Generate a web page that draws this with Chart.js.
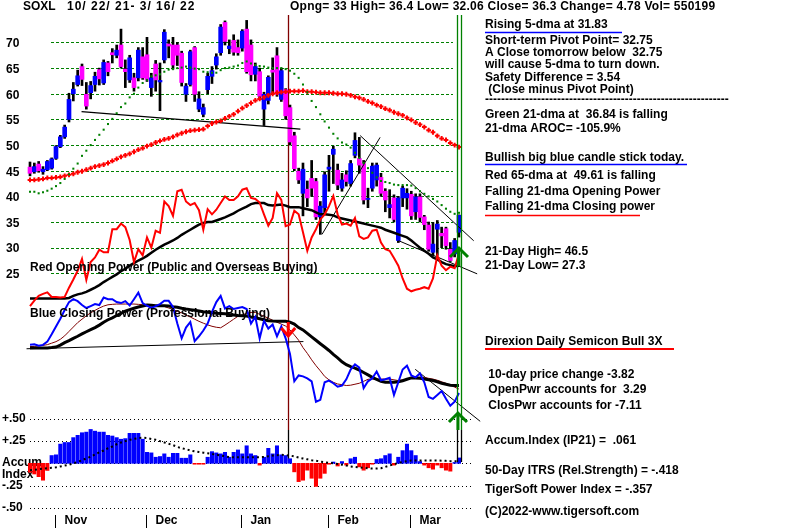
<!DOCTYPE html>
<html><head><meta charset="utf-8">
<script src="https://cdn.jsdelivr.net/npm/chart.js@4.4.0/dist/chart.umd.min.js"></script>
<style>html,body{margin:0;padding:0;background:#fff;overflow:hidden}</style>
</head><body>
<canvas id="c" width="800" height="528"></canvas>
<script>
// ---- DATA ----
const openP  = [45.7,44.8,46.3,44.8,45.2,45.5,47.4,49.7,51.6,55.0, 60.0,61.8,65.3,59.9,60.2,61.8,64.7,62.1,66.0,68.0, 67.5,69.5,64.8,62.7,63.1,63.1,67.2,67.6,61.2,65.8, 62.3,66.6,69.7,69.5,69.5,67.9,59.9,61.8,69.0,57.0, 56.0,60.8,63.4,65.6,68.0,73.9,68.8,70.4,69.0,68.9, 72.6,69.5,63.8,64.3,57.0,58.7,64.6,67.4,58.9,60.8, 57.3,51.8,44.9,40.6,41.4,43.5,42.9,36.0,37.8,45.3, 48.2,45.1,41.6,44.2,42.5,48.0,47.4,46.4,39.4,41.6, 43.2,43.7,41.0,37.8,39.7,31.4,39.7,39.7,40.4,37.0, 39.9,36.0,34.4,29.1,33.6,32.8,33.7,29.7,28.8,33.0];
const highP  = [46.7,46.5,46.8,45.8,47.0,47.5,49.9,51.9,53.9,60.1, 62.2,64.6,65.8,62.2,62.4,64.2,65.0,66.6,66.3,68.8, 69.5,72.6,66.6,67.5,64.0,69.0,69.0,71.0,64.0,66.5, 66.0,72.5,70.5,71.0,70.0,68.3,62.0,68.5,69.2,60.4, 58.0,64.0,65.3,67.8,73.5,74.2,70.5,71.5,70.5,72.5, 74.3,70.5,66.0,65.0,60.3,63.5,67.0,69.0,65.0,61.0, 57.8,52.5,45.5,46.5,43.0,47.0,43.5,39.0,44.8,48.0, 49.8,46.3,44.5,45.0,47.0,52.4,51.5,47.0,41.6,46.5, 46.5,44.5,41.5,41.3,40.3,40.0,42.0,41.5,41.0,40.5, 40.5,36.3,35.0,34.9,35.3,34.0,34.0,31.0,31.8,36.4];
const lowP   = [44.0,44.5,44.7,44.3,45.0,45.3,47.2,49.5,51.3,54.5, 58.6,61.5,61.6,57.0,59.0,60.5,61.7,61.8,63.5,66.0, 67.0,65.0,61.2,62.2,60.5,62.5,62.8,62.4,59.5,60.5, 56.7,66.0,67.0,64.8,65.5,61.5,58.5,61.5,58.5,56.5, 55.5,60.0,62.0,64.8,67.5,69.5,67.8,67.5,67.5,68.3, 64.0,62.5,62.5,59.0,53.8,58.0,60.0,59.5,58.5,55.0, 50.0,45.0,42.5,36.2,38.0,40.0,35.5,32.6,36.5,41.0, 42.5,41.3,41.0,42.0,42.0,47.5,44.5,38.5,37.8,41.0, 42.0,40.0,37.0,35.8,35.0,31.0,38.0,37.5,35.5,35.5, 35.0,33.5,29.3,28.5,28.5,30.0,29.7,27.3,28.2,32.06];
const closeP = [44.5,45.8,45.0,45.3,46.8,47.3,49.7,51.6,53.5,58.9, 60.9,63.5,62.8,57.6,61.6,63.4,62.9,66.1,64.3,67.6, 68.5,65.3,64.3,67.0,61.2,68.5,63.1,62.7,63.1,62.7, 62.6,72.0,69.3,65.6,67.5,62.2,61.5,68.2,59.9,59.0, 57.3,63.4,64.5,67.2,73.0,70.2,69.3,68.1,68.0,72.2, 64.3,63.7,65.3,59.5,59.9,63.2,64.2,59.9,64.5,55.7, 50.6,45.4,43.2,45.3,39.7,41.6,36.0,38.1,44.2,45.7, 49.2,42.2,43.2,42.9,46.4,50.9,46.1,39.3,39.6,45.9, 46.1,40.6,39.3,38.4,35.5,39.7,41.6,40.6,36.2,39.9, 35.9,34.5,29.7,30.7,34.6,32.3,30.4,27.5,31.4,36.3];
const ma21   = [40.9,40.9,40.6,40.8,41.1,41.5,42.0,42.6,43.4,44.3, 45.4,46.4,47.9,48.9,50.0,51.0,52.0,53.0,54.1,55.1, 56.2,57.4,58.1,59.3,60.0,61.2,62.1,62.7,63.4,63.6, 63.8,64.3,64.7,64.8,65.0,65.1,65.3,65.1,64.9,64.8, 64.3,64.2,64.1,64.1,64.6,65.0,65.1,65.3,65.5,66.0, 66.3,65.9,65.6,65.4,65.3,65.1,65.0,65.0,65.0,64.8, 64.5,63.9,63.1,61.8,60.3,58.6,57.4,56.0,54.6,53.4, 52.2,51.3,50.5,50.1,49.5,48.5,47.5,46.5,45.5,44.6, 43.7,43.0,42.8,42.6,42.3,42.2,42.2,42.2,42.1,41.6, 41.0,40.5,40.0,39.5,39.0,38.3,37.6,37.0,36.6,36.8];
const ma65   = [43.2,43.2,43.3,43.4,43.6,43.6,43.7,43.8,44.0,44.2, 44.4,44.7,44.9,45.2,45.5,45.8,46.0,46.2,46.5,46.9, 47.3,47.7,48.0,48.3,48.7,49.1,49.4,49.8,50.1,50.5, 50.8,51.1,51.3,51.6,52.0,52.3,52.6,52.8,52.9,53.0, 53.1,53.7,54.2,54.5,54.7,55.2,55.6,56.0,56.6,57.2, 57.7,58.2,58.7,59.0,59.3,59.7,60.0,60.2,60.3,60.4, 60.5,60.5,60.5,60.6,60.4,60.4,60.3,60.2,60.2,60.2, 60.1,60.0,60.0,59.9,59.7,59.4,59.2,58.9,58.5,58.2, 57.8,57.5,57.1,56.8,56.4,56.1,55.8,55.3,54.9,54.4, 54.0,53.5,52.9,52.5,51.8,51.3,51.0,50.4,50.0,49.6];
const openPower   = [18.6,19.7,20.6,21.0,21.3,20.4,20.4,20.3,20.4,22.2, 23.8,25.5,27.8,23.7,27.2,28.1,29.6,29.1,29.1,33.6, 33.6,34.7,34.0,31.5,27.2,29.7,28.5,32.0,30.0,33.3, 32.9,39.0,38.1,36.2,41.0,41.3,39.0,38.3,38.7,37.3, 33.5,37.5,36.5,37.4,38.7,40.0,39.3,39.3,40.0,41.3, 41.6,39.7,39.5,38.8,36.5,34.3,35.8,40.6,39.3,34.2, 34.5,37.2,36.5,33.0,29.4,32.0,33.6,35.5,36.5,38.1, 40.1,36.5,34.5,34.7,34.3,35.8,32.2,31.7,32.0,33.3, 33.5,31.0,29.7,29.4,28.0,26.5,24.0,22.0,21.5,21.8, 22.0,22.3,22.0,24.0,28.5,26.5,25.6,26.3,26.0,28.8];
const openPowerMA = [20.1,20.1,20.1,20.1,20.1,20.1,20.1,20.1,20.1,20.2, 20.6,20.9,21.1,21.4,21.8,22.2,22.7,23.3,23.8,24.3, 24.8,25.4,25.9,26.5,27.0,27.5,27.9,28.4,29.0,29.6, 30.1,30.6,31.0,31.4,31.9,32.5,33.0,33.5,34.0,34.5, 34.8,35.0,35.0,35.3,35.6,35.9,36.3,36.7,37.2,37.6, 38.0,38.5,38.7,38.7,38.7,38.3,38.2,38.3,38.4,38.2, 37.9,37.9,37.9,37.7,37.5,37.3,36.9,36.5,36.5,36.4, 36.3,35.9,35.7,35.5,35.3,35.1,34.9,34.7,34.5,34.3, 34.1,33.9,33.5,33.2,32.9,32.6,32.3,32.0,31.4,30.7, 30.0,29.4,28.8,28.1,27.7,27.2,26.8,26.6,26.4,26.5];
const closePower   = [48.6,48.9,47.7,48.4,51.4,58.2,65.5,72.7,80.9,88.2, 90.9,89.1,85.5,82.7,84.5,86.4,85.5,92.5,90.9,90.9, 88.2,87.3,89.1,85.0,90.9,97.0,87.3,84.8,82.7,84.5, 86.4,89.4,89.4,83.6,68.2,54.5,64.5,69.7,51.8,56.4, 61.8,68.2,79.1,88.2,93.9,82.3,84.5,81.8,82.7,83.6, 81.8,68.2,74.5,54.5,70.9,63.6,67.3,56.4,65.5,54.5, 40.0,14.5,20.0,19.1,17.3,14.5,-4.5,-2.7,13.6,15.2, 12.7,9.5,10.6,16.4,25.5,30.3,27.3,8.2,14.5,17.3, 23.6,15.5,16.4,17.7,1.8,13.6,25.5,29.1,20.0,18.2, 21.8,13.6,0.0,-1.8,1.8,5.5,-1.8,-8.2,-4.5,3.6];
const closePowerMA = [45.5,45.5,45.5,45.5,45.5,45.9,46.4,48.2,50.5,52.3, 54.5,56.4,58.6,60.6,62.5,64.5,66.8,69.5,71.8,73.6, 75.7,77.7,79.7,81.2,82.5,83.6,84.5,85.5,85.2,84.8, 84.8,84.8,84.5,83.9,83.4,82.5,81.8,81.2,80.6,80.0, 79.3,78.8,78.4,77.9,77.6,77.3,76.6,76.2,75.7,75.5, 75.2,74.3,73.6,72.7,71.8,70.9,70.5,70.3,70.3,70.3, 69.5,67.7,64.5,62.3,59.1,55.9,52.7,49.5,46.4,43.2, 39.5,36.4,32.7,30.0,28.2,26.8,25.0,22.7,20.5,18.2, 16.4,14.5,13.6,13.6,13.6,14.1,15.0,16.4,17.7,17.7, 17.3,16.6,15.9,15.2,14.1,12.7,11.8,10.9,10.6,10.6];
const closePowerSlow = [46.8,47.0,47.5,47.9,48.6,50.0,51.4,53.6,56.8,60.9, 65.0,69.1,72.3,75.5,78.2,80.5,82.7,84.5,85.7,86.1, 86.4,86.4,86.4,86.4,86.4,86.1,85.8,85.5,85.2,85.0, 84.8,84.1,82.7,81.4,79.5,78.2,76.1,74.3,72.3,70.3, 68.6,67.0,65.7,64.8,64.3,66.8,69.5,72.3,75.0,76.4, 77.7,78.6,78.6,76.8,75.0,73.2,71.4,69.5,67.7,65.9, 62.3,57.7,52.7,45.9,40.5,34.5,29.1,24.3,19.1,15.9, 13.6,12.0,11.4,10.6,10.9,11.8,12.7,14.5,16.4,16.6, 16.6,16.6,16.6,16.6,15.9,15.2,15.9,16.6,17.3,18.2, 18.2,18.2,17.3,16.6,15.5,14.1,12.7,10.9,9.1,7.3];
const accumIdx = [-0.10,-0.12,-0.15,-0.19,-0.08,0.088,0.096,0.217,0.235,0.235, 0.29,0.316,0.345,0.352,0.382,0.363,0.352,0.352,0.316,0.308, 0.29,0.272,0.279,0.338,0.338,0.338,0.272,0.124,0.118,0.069, 0.077,0.107,0.069,0.113,0.113,0.058,0.058,0.096,-0.01,-0.01, -0.01,0.069,0.132,0.118,0.107,0.124,0.069,0.124,0.151,0.107, 0.198,0.107,0.088,-0.02,0.069,0.169,0.107,0.198,0.096,0.088, 0.052,-0.096,-0.206,-0.19,-0.077,-0.168,-0.26,-0.168,-0.113,-0.01, 0.015,-0.03,0.02,-0.02,0.052,0.069,-0.04,-0.077,-0.05,-0.01, 0.044,0.052,0.088,0.107,-0.02,0.069,0.143,0.217,0.143,0.088, 0.02,-0.02,-0.05,-0.066,-0.02,-0.05,-0.077,-0.088,0.01,0.061];
const accumMA = [-0.077,-0.072,-0.066,-0.06,-0.055,-0.05,-0.045,-0.035,-0.025,-0.015, 0.0,0.015,0.035,0.055,0.075,0.10,0.124,0.145,0.17,0.19, 0.215,0.235,0.25,0.265,0.275,0.285,0.29,0.285,0.275,0.265, 0.25,0.235,0.22,0.205,0.185,0.17,0.16,0.145,0.135,0.127, 0.12,0.113,0.105,0.097,0.09,0.08,0.07,0.07,0.069,0.069, 0.069,0.069,0.069,0.069,0.072,0.08,0.088,0.092,0.096,0.094, 0.088,0.078,0.065,0.055,0.045,0.035,0.03,0.02,0.012,0.005, 0.0,-0.008,-0.015,-0.025,-0.035,-0.04,-0.045,-0.05,-0.055,-0.058, -0.058,-0.055,-0.04,-0.025,-0.01,0.005,0.015,0.025,0.033,0.033, 0.033,0.033,0.033,0.033,0.033,0.03,0.028,0.025,0.025,0.025];
// trend lines (endpoints in day-index / value units)
const priceSupport = [[11.9,56.5],[62.4,53.1]];
const priceDownTrend = [[76.2,51.85],[102.4,31.35]];
const priceUpTrend = [[67.4,32.6],[80.8,51.5]];
const priceLowTrend = [[85.1,31.35],[103.2,24.9]];
const cpSupport = [[-0.8,44.8],[63.1,51.5]];
const cpDownTrend = [[88.9,25.7],[103.9,-22.7]];
// axis labels
const priceTicks = [70,65,60,55,50,45,40,35,30,25];
const accumTicks = [0.5,0.25,0,-0.25,-0.5];
const accumTickLabels = ['+.50','+.25','','-.25','-.50'];
const monthLabels = ['Nov','Dec','Jan','Feb','Mar'];
const monthStart = [6,27,49,69,88];
const sellDay = 59.6;

// ---- CHART ----
const days = closeP.map((_,i)=>i);
const pts = a => a.map((v,i)=>({x:i,y:v}));
const seg = a => a.map(p=>({x:p[0],y:p[1]}));
const bodyColors = days.map(i => closeP[i] >= openP[i] ? '#0000ff' : '#ff00ff');
const accColors = accumIdx.map(v => v >= 0 ? '#0000ff' : '#ff0000');
const F = s => `bold ${s}px "Liberation Sans", Arial, sans-serif`;

const lineDs = (data, color, width, axis, extra) => Object.assign({
  type:'line', data, borderColor:color, borderWidth:width, pointRadius:0,
  tension:0, fill:false, yAxisID:axis, order:5
}, extra||{});

const deco = {
  id:'deco',
  beforeDatasetsDraw(chart){
    const {ctx, scales:{x, y, acc}} = chart;
    ctx.save();
    ctx.lineWidth = 1;
    ctx.strokeStyle = '#008000'; ctx.setLineDash([3,2]);
    priceTicks.forEach(v=>{
      const py = Math.round(y.getPixelForValue(v)) + 0.5;
      ctx.beginPath(); ctx.moveTo(51,py); ctx.lineTo(453,py); ctx.stroke();
    });
    ctx.strokeStyle = '#000'; ctx.setLineDash([1,3]);
    accumTicks.forEach(v=>{
      const py = Math.round(acc.getPixelForValue(v)) + 0.5;
      ctx.beginPath(); ctx.moveTo(30,py); ctx.lineTo(472,py); ctx.stroke();
    });
    ctx.setLineDash([]);
    const sx = Math.round(x.getPixelForValue(sellDay)) + 0.5;
    ctx.strokeStyle = '#800000'; ctx.lineWidth = 1.3;
    ctx.beginPath(); ctx.moveTo(sx,15); ctx.lineTo(sx,430); ctx.stroke();
    ctx.strokeStyle = '#000';
    ctx.beginPath(); ctx.moveTo(sx,430); ctx.lineTo(sx,461); ctx.stroke();
    ctx.fillStyle = '#000'; ctx.font = F(12); ctx.textBaseline = 'middle';
    ctx.fillText('Accum', 2, 463);
    ctx.fillText('Index', 2, 475);
    ctx.restore();
  },
  afterDatasetsDraw(chart){
    const {ctx, scales:{x, y, acc}} = chart;
    ctx.save();
    ctx.fillStyle = '#000'; ctx.textBaseline = 'middle'; ctx.font = F(12);
    ctx.fillText('Red Opening Power (Public and Overseas Buying)', 30, 268);
    ctx.fillText('Blue Closing Power (Professional Buying)', 30, 314);
    const lx = x.getPixelForValue(99);
    [lx-2.3, lx+2.3].forEach(px=>{
      const p = Math.round(px)+0.5;
      ctx.strokeStyle = '#008000'; ctx.lineWidth = 1.3;
      ctx.beginPath(); ctx.moveTo(p,15); ctx.lineTo(p,430); ctx.stroke();
      ctx.strokeStyle = '#000';
      ctx.beginPath(); ctx.moveTo(p,430); ctx.lineTo(p,462); ctx.stroke();
    });
    const arrowUp = (cx, top, bottom) => {
      ctx.strokeStyle = '#008000'; ctx.lineWidth = 3; ctx.lineCap = 'butt';
      ctx.beginPath(); ctx.moveTo(cx, bottom); ctx.lineTo(cx, top+1); ctx.stroke();
      ctx.beginPath(); ctx.moveTo(cx-9, top+9); ctx.lineTo(cx, top); ctx.lineTo(cx+9, top+9); ctx.stroke();
    };
    arrowUp(lx, 248, 266);
    arrowUp(lx-1, 413, 430);
    const sx = x.getPixelForValue(sellDay);
    ctx.strokeStyle = '#ff0000'; ctx.lineWidth = 3;
    ctx.beginPath(); ctx.moveTo(sx, 322); ctx.lineTo(sx, 335); ctx.stroke();
    ctx.beginPath(); ctx.moveTo(sx-7, 328); ctx.lineTo(sx, 336); ctx.lineTo(sx+7, 328); ctx.stroke();
    ctx.fillStyle = '#000'; ctx.font = F(12);
    priceTicks.forEach(v=> ctx.fillText(String(v), 6, y.getPixelForValue(v)+1.5));
    accumTicks.forEach((v,k)=>{ if(accumTickLabels[k]) ctx.fillText(accumTickLabels[k], 2, acc.getPixelForValue(v)); });
    ctx.strokeStyle = '#000'; ctx.lineWidth = 1;
    monthStart.forEach((d,k)=>{
      const px = Math.round(x.getPixelForValue(d-0.3))+0.5;
      ctx.beginPath(); ctx.moveTo(px,515); ctx.lineTo(px,528); ctx.stroke();
      ctx.fillText(monthLabels[k], px+9, 521);
    });
    ctx.fillText('SOXL', 23, 7);
    try { ctx.letterSpacing = '1px'; } catch(e) {}
    ctx.fillText('10/ 22/ 21- 3/ 16/ 22', 67, 7);
    try { ctx.letterSpacing = '0.25px'; } catch(e) {}
    ctx.fillText('Opng= 33 High= 36.4 Low= 32.06 Close= 36.3 Change= 4.78 Vol= 550199', 290, 7);
    try { ctx.letterSpacing = '0px'; } catch(e) {}
    const R = 485;
    const lines = [
      ['Rising 5-dma at 31.83', R, 25],
      ['Short-term Pivot Point= 32.75', R, 41],
      ['A Close tomorrow below  32.75', R, 53],
      ['will cause 5-dma to turn down.', R, 65],
      ['Safety Difference = 3.54', R, 78],
      [' (Close minus Pivot Point)', R, 90],
      ['-------------------------------------------------------------', R, 100],
      ['Green 21-dma at  36.84 is falling', R, 115],
      ['21-dma AROC= -105.9%', R, 129],
      ['Bullish big blue candle stick today.', R, 158],
      ['Red 65-dma at  49.61 is falling', R, 176],
      ['Falling 21-dma Opening Power', R, 192],
      ['Falling 21-dma Closing power', R, 207],
      ['21-Day High= 46.5', R, 252],
      ['21-Day Low= 27.3', R, 266],
      ['Direxion Daily Semicon Bull 3X', R, 342],
      [' 10-day price change -3.82', R, 375],
      [' OpenPwr accounts for  3.29', R, 390],
      [' ClosPwr accounts for -7.11', R, 406],
      ['Accum.Index (IP21) =  .061', R, 441],
      ['50-Day ITRS (Rel.Strength) = -.418', R, 471],
      ['TigerSoft Power Index = -.357', R, 490],
      ['(C)2022-www.tigersoft.com', R, 512]
    ];
    lines.forEach(l=> ctx.fillText(l[0], l[1], l[2]));
    const uline = (x0,x1,yy,c,w)=>{ ctx.strokeStyle=c; ctx.lineWidth=w; ctx.beginPath(); ctx.moveTo(x0,yy); ctx.lineTo(x1,yy); ctx.stroke(); };
    uline(485,622,32.5,'#0000ff',1.3);
    uline(485,687,164.5,'#0000ff',1.3);
    uline(485,640,215.5,'#ff0000',1.3);
    uline(485,674,349,'#ff0000',2.2);
    ctx.restore();
  }
};

new Chart(document.getElementById('c'), {
  data: { datasets: [
    { type:'bar', data: days.map(i=>({x:i, y:[lowP[i], highP[i]]})), backgroundColor:'#000',
      barThickness:2, grouped:false, yAxisID:'y', order:20 },
    { type:'bar', data: days.map(i=>({x:i, y:[openP[i], closeP[i]]})), backgroundColor: bodyColors,
      barThickness:4, grouped:false, yAxisID:'y', order:19 },
    lineDs(seg(priceSupport), '#000', 1.2, 'y', {order:18}),
    lineDs(seg(priceDownTrend), '#000', 1, 'y', {order:18, clip:false}),
    lineDs(seg(priceUpTrend), '#000', 1, 'y', {order:18}),
    lineDs(seg(priceLowTrend), '#000', 1, 'y', {order:18, clip:false}),
    lineDs(pts(openPowerMA), '#000', 2.5, 'y', {order:8}),
    lineDs(pts(openPower), '#ff0000', 2, 'y', {order:7}),
    lineDs(pts(ma21), '#008000', 0, 'y', {order:4, showLine:false, pointRadius:1.45, pointStyle:'rect',
      pointBackgroundColor:'#008000', pointBorderWidth:0}),
    lineDs(pts(ma65), '#ff0000', 0, 'y', {order:4, showLine:false, pointRadius:2.4, pointStyle:'cross',
      pointBorderColor:'#ff0000', pointBorderWidth:2}),
    lineDs(seg(cpSupport), '#000', 1, 'cp', {order:9}),
    lineDs(seg(cpDownTrend), '#000', 1, 'cp', {order:9, clip:false}),
    lineDs(pts(closePowerSlow), '#800000', 1, 'cp', {order:8}),
    lineDs(pts(closePowerMA), '#000', 3, 'cp', {order:7}),
    lineDs(pts(closePower), '#0000ff', 2, 'cp', {order:6}),
    { type:'bar', data: pts(accumIdx), backgroundColor: accColors, barThickness:3.4, grouped:false,
      yAxisID:'acc', order:12 },
    lineDs(pts(accumMA), '#000', 2, 'acc', {order:3, borderDash:[2,3]})
  ]},
  options: {
    responsive:false, animation:false, devicePixelRatio:1,
    layout:{ padding:{ left:25, right:325, top:0, bottom:0 } },
    plugins:{ legend:{display:false}, tooltip:{enabled:false} },
    scales:{
      x:{ type:'linear', min:-1.154, max:102.7, offset:false, display:false },
      y:{ type:'linear', min:-23.467, max:77.105, display:false },
      cp:{ type:'linear', min:-116.36, max:363.64, display:false },
      acc:{ type:'linear', min:-0.661, max:5.154, display:false }
    }
  },
  plugins:[deco]
});
</script>
</body></html>
